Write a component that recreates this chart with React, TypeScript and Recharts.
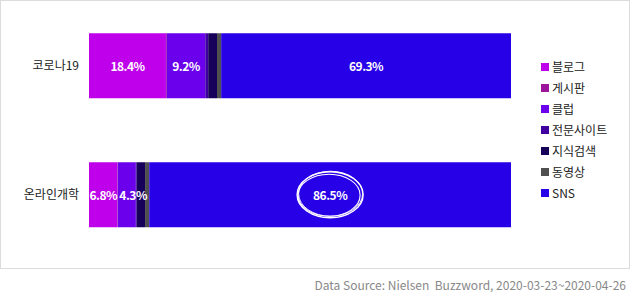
import React from 'react';
import { BarChart, Bar, XAxis, YAxis, LabelList, Legend } from 'recharts';

const categories = ['코로나19', '온라인개학'];
const seriesNames = ['블로그', '게시판', '클럽', '전문사이트', '지식검색', '동영상', 'SNS'];
const blogValues = [18.4, 6.8];
const boardValues = [0.2, 0.1];
const clubValues = [9.2, 4.3];
const expertValues = [0.7, 0.2];
const knowledgeValues = [2.1, 2.0];
const videoValues = [1.0, 1.0];
const snsValues = [69.3, 86.5];
const seriesColors = ['#BF00EA', '#9C169C', '#6A00EC', '#40009F', '#17005A', '#4F4F4F', '#2800E8'];
const highlighted = { category: '온라인개학', series: 'SNS' };
const sourceText = 'Data Source: Nielsen\u00a0 Buzzword, 2020-03-23~2020-04-26';

const seriesValues = [blogValues, boardValues, clubValues, expertValues, knowledgeValues, videoValues, snsValues];

const data = categories.map((name, i) => {
  const row: Record<string, string | number> = { name };
  seriesNames.forEach((s, j) => {
    row[s] = seriesValues[j][i];
  });
  return row;
});

const FONT = '"Noto Sans CJK KR", "Noto Sans", sans-serif';

const makeLabel = (seriesIdx: number) => (props: any) => {
  const { x, y, width, height, index } = props;
  const value = seriesValues[seriesIdx][index];
  if (value == null || value < 4) return null;
  const str = `${value}%`;
  const w = Number(width);
  const estWidth = str.length * 6.8;
  const fits = estWidth <= w;
  const cx = fits ? Number(x) + w / 2 : Number(x) + 1.5;
  const cy = Number(y) + Number(height) / 2;
  const isHi = categories[index] === highlighted.category && seriesNames[seriesIdx] === highlighted.series;
  return (
    <g>
      {isHi && (
        <g fill="none" stroke="#ffffff">
          <ellipse cx={cx} cy={cy} rx={33} ry={23} strokeWidth={1.4} />
          <ellipse cx={cx - 1} cy={cy + 0.5} rx={31} ry={21} strokeWidth={1.1} />
          <ellipse cx={cx + 0.5} cy={cy - 1} rx={32} ry={22.5} strokeWidth={0.9} />
        </g>
      )}
      <text
        x={cx}
        y={cy}
        fill="#ffffff"
        fontSize={12}
        fontWeight="bold"
        fontFamily={FONT}
        letterSpacing={-0.5}
        textAnchor={fits ? 'middle' : 'start'}
        dominantBaseline="central"
      >
        {str}
      </text>
    </g>
  );
};

const renderLegend = () => (
  <div style={{ fontFamily: FONT, fontSize: 12, color: '#222' }}>
    {seriesNames.map((s, i) => (
      <div key={s} style={{ height: 21, display: 'flex', alignItems: 'center' }}>
        <span
          style={{ display: 'inline-block', width: 8, height: 8, background: seriesColors[i], marginRight: 3 }}
        />
        <span style={{ lineHeight: '21px' }}>{s}</span>
      </div>
    ))}
  </div>
);

export default function App() {
  return (
    <div style={{ position: 'absolute', left: 0, top: 0, width: 630, height: 302, background: '#fff' }}>
      <div
        style={{
          position: 'absolute',
          left: 0,
          top: 0,
          width: 630,
          height: 269,
          border: '1px solid #dcdcdc',
          boxSizing: 'border-box',
        }}
      />
      <div style={{ position: 'absolute', left: 0, top: 0 }}>
        <BarChart
          width={630}
          height={269}
          data={data}
          layout="vertical"
          stackOffset="expand"
          margin={{ top: 1, right: 119, bottom: 10, left: 0 }}
          barCategoryGap="25%"
        >
          <XAxis type="number" domain={[0, 1]} hide />
          <YAxis
            type="category"
            dataKey="name"
            width={89}
            axisLine={false}
            tickLine={false}
            tickSize={0}
            tickMargin={10}
            tick={{ fill: '#222', fontSize: 12, fontFamily: FONT }}
          />
          <Legend
            layout="vertical"
            align="center"
            verticalAlign="middle"
            content={renderLegend}
            wrapperStyle={{ left: 541, top: 56, width: 90 }}
          />
          {seriesNames.map((s, i) => (
            <Bar key={s} dataKey={s} stackId="a" fill={seriesColors[i]} isAnimationActive={false}>
              <LabelList dataKey={s} content={makeLabel(i)} />
            </Bar>
          ))}
        </BarChart>
      </div>
      <div
        style={{
          position: 'absolute',
          right: 4,
          top: 276,
          fontFamily: FONT,
          fontSize: 12,
          color: '#888',
          whiteSpace: 'nowrap',
          lineHeight: '18px',
        }}
      >
        {sourceText}
      </div>
    </div>
  );
}
